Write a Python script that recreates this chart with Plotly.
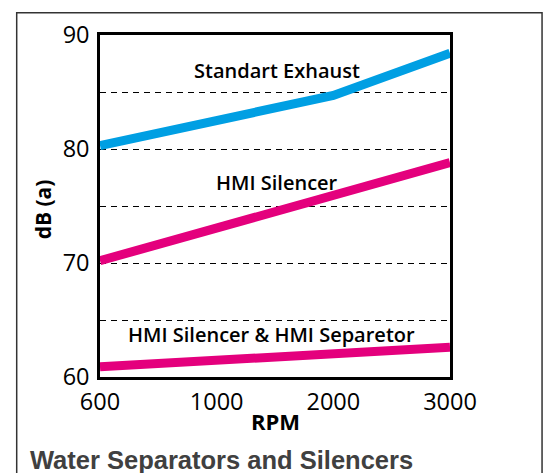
import plotly.graph_objects as go

rpm = ["600", "1000", "2000", "3000"]
standard_exhaust = [80.3, 82.6, 84.7, 88.4]
hmi_silencer = [70.2, 73.1, 76.0, 78.8]
hmi_silencer_separator = [60.9, 61.5, 62.0, 62.6]

y_ticks = [60, 65, 70, 75, 80, 85, 90]
y_ticktext = ["60", "", "70", "", "80", "", "90"]

BLUE = "#009fe3"
PINK = "#e4007d"

fig = go.Figure()
for vals, col in [(hmi_silencer_separator, PINK), (hmi_silencer, PINK), (standard_exhaust, BLUE)]:
    fig.add_trace(go.Scatter(x=rpm, y=vals, mode="lines",
                             line=dict(color=col, width=9), showlegend=False,
                             hoverinfo="skip"))

tick_font = dict(family="Open Sans", size=23.5, color="#000")
fig.update_layout(
    width=548, height=473,
    margin=dict(l=100, r=98, t=35, b=96),
    paper_bgcolor="white", plot_bgcolor="white",
    xaxis=dict(type="category", range=[0, 3], showgrid=False, zeroline=False,
               showline=True, mirror=True, linecolor="black", linewidth=2.5,
               ticks="outside", ticklen=2, tickcolor="rgba(0,0,0,0)",
               tickfont=tick_font),
    yaxis=dict(range=[60, 90], tickvals=y_ticks, ticktext=y_ticktext,
               showgrid=True, gridcolor="black", gridwidth=1.3, griddash="6px,5px",
               zeroline=False, showline=True, mirror=True, linecolor="black",
               linewidth=2.5, ticks="outside", ticklen=3,
               tickcolor="rgba(0,0,0,0)", tickfont=tick_font),
)

# outer frame
fig.add_shape(type="rect", xref="paper", yref="paper",
              x0=-0.238, x1=1.263, y0=-0.40, y1=1.065,
              line=dict(color="#333333", width=1.5), layer="below")

def ann(text, x, y, font, **kw):
    fig.add_annotation(text=text, xref="paper", yref="paper", x=x, y=y,
                       showarrow=False, font=font,
                       xanchor=kw.pop("xanchor", "center"), yanchor="middle", **kw)

lab_font = dict(family="Open Sans", size=20, color="#000", weight=600)
ann("Standart Exhaust", 0.506, 0.895, lab_font)
ann("HMI Silencer", 0.506, 0.570, lab_font)
ann("HMI Silencer &amp; HMI Separetor", 0.491, 0.123, lab_font)
ann("<b>dB (a)</b>", -0.163, 0.49, dict(family="Open Sans", size=21, color="#000"),
    textangle=-90)
ann("<b>RPM</b>", 0.5, -0.129, dict(family="Open Sans", size=22, color="#000"))
ann("<b>Water Separators and Silencers</b>", -0.207, -0.244,
    dict(family="Liberation Sans", size=25.5, color="#404040"), xanchor="left")

fig.write_html("out.html", config={"displayModeBar": False},
               post_script="document.body.style.margin='0';document.body.style.overflow='hidden';")
